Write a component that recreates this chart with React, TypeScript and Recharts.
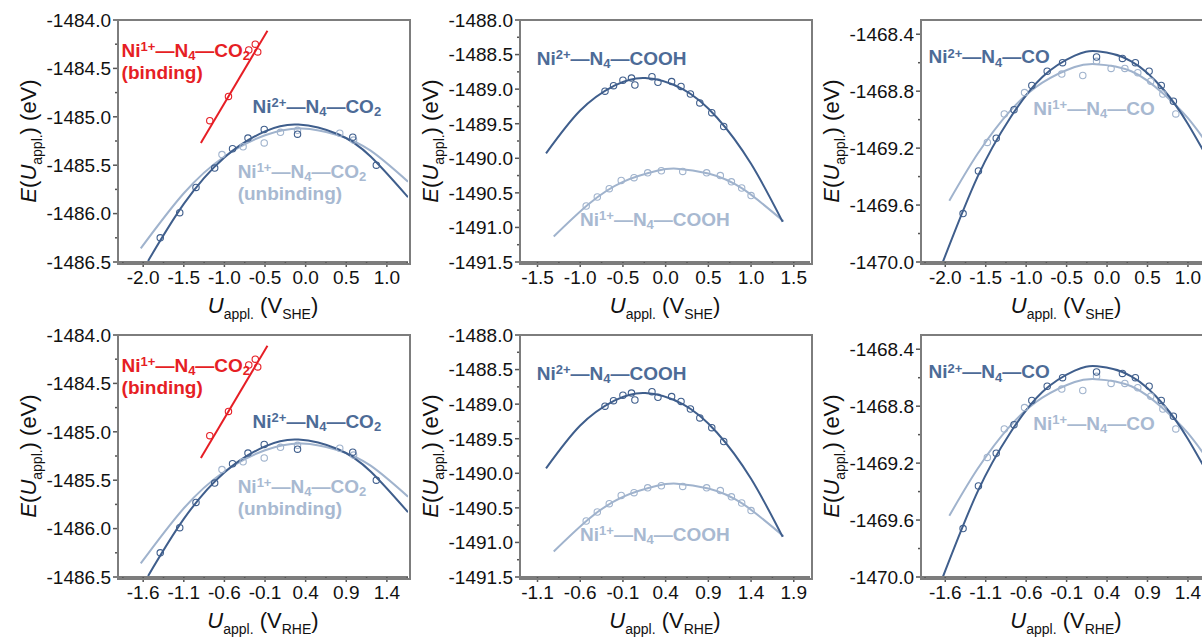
import React from 'react';
import { ComposedChart, Line, Scatter, XAxis, YAxis, ReferenceDot } from 'recharts';

const DARK = '#3f5e8c';
const LIGHT = '#a0b3cd';
const RED = '#e61e25';
const DARK_TEXT = '#4d6b97';
const LIGHT_TEXT = '#a8b9d1';
const FRAME = '#7d7d7d';
const TICK = '#555555';
const INK = '#111111';
const FONT = 'Arial, "Liberation Sans", Helvetica, sans-serif';

// plot box inside every panel
const PLOT_LEFT = 118;
const PLOT_TOP = 20;
const PLOT_W = 290;
const PLOT_H = 242;
const X_AXIS_H = 60;
const CHART_W = PLOT_LEFT + PLOT_W + 2;
const CHART_H = PLOT_TOP + PLOT_H + X_AXIS_H;

type Pt = { she: number; rhe: number; e: number };

// ---- Ni-N4-CO2 ----
const co2BindingPts: Pt[] = [
  { she: -1.18, rhe: -0.78, e: -1485.04 },
  { she: -0.95, rhe: -0.55, e: -1484.79 },
  { she: -0.7, rhe: -0.3, e: -1484.31 },
  { she: -0.62, rhe: -0.22, e: -1484.25 },
  { she: -0.59, rhe: -0.19, e: -1484.33 },
];
const co2BindingFit: Pt[] = [
  { she: -1.29, rhe: -0.89, e: -1485.27 },
  { she: -0.47, rhe: -0.07, e: -1484.11 },
];
const co2Ni2Pts: Pt[] = [
  { she: -1.79, rhe: -1.39, e: -1486.25 },
  { she: -1.55, rhe: -1.15, e: -1485.99 },
  { she: -1.35, rhe: -0.95, e: -1485.73 },
  { she: -1.12, rhe: -0.72, e: -1485.53 },
  { she: -0.9, rhe: -0.5, e: -1485.33 },
  { she: -0.71, rhe: -0.31, e: -1485.22 },
  { she: -0.51, rhe: -0.11, e: -1485.13 },
  { she: -0.1, rhe: 0.3, e: -1485.18 },
  { she: 0.58, rhe: 0.98, e: -1485.21 },
  { she: 0.87, rhe: 1.27, e: -1485.5 },
];
const co2Ni1Pts: Pt[] = [
  { she: -1.03, rhe: -0.63, e: -1485.39 },
  { she: -0.77, rhe: -0.37, e: -1485.31 },
  { she: -0.51, rhe: -0.11, e: -1485.27 },
  { she: -0.31, rhe: 0.09, e: -1485.16 },
  { she: -0.1, rhe: 0.3, e: -1485.14 },
  { she: 0.42, rhe: 0.82, e: -1485.17 },
  { she: 0.59, rhe: 0.99, e: -1485.24 },
];
const co2Ni2Fit: Pt[] = [
  { she: -1.94, rhe: -1.54, e: -1486.49 },
  { she: -1.5, rhe: -1.1, e: -1485.9 },
  { she: -1.0, rhe: -0.6, e: -1485.42 },
  { she: -0.5, rhe: -0.1, e: -1485.15 },
  { she: -0.09, rhe: 0.31, e: -1485.08 },
  { she: 0.4, rhe: 0.8, e: -1485.18 },
  { she: 0.8, rhe: 1.2, e: -1485.41 },
  { she: 1.26, rhe: 1.66, e: -1485.83 },
];
const co2Ni1Fit: Pt[] = [
  { she: -2.03, rhe: -1.63, e: -1486.36 },
  { she: -1.5, rhe: -1.1, e: -1485.79 },
  { she: -1.0, rhe: -0.6, e: -1485.41 },
  { she: -0.5, rhe: -0.1, e: -1485.19 },
  { she: -0.05, rhe: 0.35, e: -1485.12 },
  { she: 0.4, rhe: 0.8, e: -1485.19 },
  { she: 0.8, rhe: 1.2, e: -1485.35 },
  { she: 1.26, rhe: 1.66, e: -1485.67 },
];

// ---- Ni-N4-COOH ----
const coohNi2Pts: Pt[] = [
  { she: -0.71, rhe: -0.31, e: -1489.03 },
  { she: -0.61, rhe: -0.21, e: -1488.95 },
  { she: -0.5, rhe: -0.1, e: -1488.87 },
  { she: -0.4, rhe: 0.0, e: -1488.84 },
  { she: -0.36, rhe: 0.04, e: -1488.94 },
  { she: -0.16, rhe: 0.24, e: -1488.82 },
  { she: -0.09, rhe: 0.31, e: -1488.9 },
  { she: 0.07, rhe: 0.47, e: -1488.89 },
  { she: 0.18, rhe: 0.58, e: -1488.96 },
  { she: 0.29, rhe: 0.69, e: -1489.07 },
  { she: 0.4, rhe: 0.8, e: -1489.2 },
  { she: 0.54, rhe: 0.94, e: -1489.34 },
  { she: 0.68, rhe: 1.08, e: -1489.54 },
];
const coohNi1Pts: Pt[] = [
  { she: -0.93, rhe: -0.53, e: -1490.69 },
  { she: -0.8, rhe: -0.4, e: -1490.56 },
  { she: -0.66, rhe: -0.26, e: -1490.44 },
  { she: -0.52, rhe: -0.12, e: -1490.32 },
  { she: -0.37, rhe: 0.03, e: -1490.28 },
  { she: -0.21, rhe: 0.19, e: -1490.21 },
  { she: -0.05, rhe: 0.35, e: -1490.18 },
  { she: 0.2, rhe: 0.6, e: -1490.19 },
  { she: 0.48, rhe: 0.88, e: -1490.21 },
  { she: 0.64, rhe: 1.04, e: -1490.25 },
  { she: 0.77, rhe: 1.17, e: -1490.34 },
  { she: 0.89, rhe: 1.29, e: -1490.43 },
  { she: 1.0, rhe: 1.4, e: -1490.54 },
];
const coohNi2Fit: Pt[] = [
  { she: -1.4, rhe: -1.0, e: -1489.93 },
  { she: -1.0, rhe: -0.6, e: -1489.31 },
  { she: -0.6, rhe: -0.2, e: -1488.95 },
  { she: -0.24, rhe: 0.16, e: -1488.84 },
  { she: 0.2, rhe: 0.6, e: -1489.0 },
  { she: 0.6, rhe: 1.0, e: -1489.41 },
  { she: 1.0, rhe: 1.4, e: -1490.08 },
  { she: 1.37, rhe: 1.77, e: -1490.92 },
];
const coohNi1Fit: Pt[] = [
  { she: -1.31, rhe: -0.91, e: -1491.13 },
  { she: -0.9, rhe: -0.5, e: -1490.66 },
  { she: -0.5, rhe: -0.1, e: -1490.34 },
  { she: -0.1, rhe: 0.3, e: -1490.18 },
  { she: 0.13, rhe: 0.53, e: -1490.15 },
  { she: 0.5, rhe: 0.9, e: -1490.22 },
  { she: 0.9, rhe: 1.3, e: -1490.44 },
  { she: 1.38, rhe: 1.78, e: -1490.91 },
];

// ---- Ni-N4-CO ----
const coNi2Pts: Pt[] = [
  { she: -1.78, rhe: -1.38, e: -1469.66 },
  { she: -1.59, rhe: -1.19, e: -1469.36 },
  { she: -1.37, rhe: -0.97, e: -1469.13 },
  { she: -1.15, rhe: -0.75, e: -1468.93 },
  { she: -0.93, rhe: -0.53, e: -1468.76 },
  { she: -0.74, rhe: -0.34, e: -1468.66 },
  { she: -0.55, rhe: -0.15, e: -1468.6 },
  { she: -0.13, rhe: 0.27, e: -1468.56 },
  { she: 0.19, rhe: 0.59, e: -1468.57 },
  { she: 0.35, rhe: 0.75, e: -1468.6 },
  { she: 0.52, rhe: 0.92, e: -1468.66 },
  { she: 0.67, rhe: 1.07, e: -1468.76 },
  { she: 0.82, rhe: 1.22, e: -1468.87 },
];
const coNi1Pts: Pt[] = [
  { she: -1.48, rhe: -1.08, e: -1469.16 },
  { she: -1.27, rhe: -0.87, e: -1468.96 },
  { she: -1.02, rhe: -0.62, e: -1468.81 },
  { she: -0.56, rhe: -0.16, e: -1468.68 },
  { she: -0.3, rhe: 0.1, e: -1468.69 },
  { she: -0.13, rhe: 0.27, e: -1468.59 },
  { she: 0.05, rhe: 0.45, e: -1468.64 },
  { she: 0.22, rhe: 0.62, e: -1468.64 },
  { she: 0.38, rhe: 0.78, e: -1468.67 },
  { she: 0.54, rhe: 0.94, e: -1468.73 },
  { she: 0.69, rhe: 1.09, e: -1468.82 },
  { she: 0.85, rhe: 1.25, e: -1468.96 },
];
const coNi2Fit: Pt[] = [
  { she: -2.03, rhe: -1.63, e: -1470.0 },
  { she: -1.6, rhe: -1.2, e: -1469.4 },
  { she: -1.2, rhe: -0.8, e: -1468.99 },
  { she: -0.8, rhe: -0.4, e: -1468.7 },
  { she: -0.4, rhe: 0.0, e: -1468.55 },
  { she: -0.12, rhe: 0.28, e: -1468.52 },
  { she: 0.3, rhe: 0.7, e: -1468.59 },
  { she: 0.7, rhe: 1.1, e: -1468.79 },
  { she: 1.0, rhe: 1.4, e: -1469.03 },
  { she: 1.29, rhe: 1.69, e: -1469.32 },
];
const coNi1Fit: Pt[] = [
  { she: -1.95, rhe: -1.55, e: -1469.57 },
  { she: -1.6, rhe: -1.2, e: -1469.24 },
  { she: -1.2, rhe: -0.8, e: -1468.94 },
  { she: -0.8, rhe: -0.4, e: -1468.74 },
  { she: -0.4, rhe: 0.0, e: -1468.63 },
  { she: -0.14, rhe: 0.26, e: -1468.61 },
  { she: 0.3, rhe: 0.7, e: -1468.66 },
  { she: 0.7, rhe: 1.1, e: -1468.82 },
  { she: 1.0, rhe: 1.4, e: -1468.99 },
  { she: 1.29, rhe: 1.69, e: -1469.21 },
];

// ---- axes ----
const sheTicksWide = [-2.0, -1.5, -1.0, -0.5, 0.0, 0.5, 1.0];
const sheMinorWide = [-2.25, -1.75, -1.25, -0.75, -0.25, 0.25, 0.75, 1.25];
const rheTicksWide = [-1.6, -1.1, -0.6, -0.1, 0.4, 0.9, 1.4];
const rheMinorWide = [-1.85, -1.35, -0.85, -0.35, 0.15, 0.65, 1.15, 1.65];
const sheTicksMid = [-1.5, -1.0, -0.5, 0.0, 0.5, 1.0, 1.5];
const sheMinorMid = [-1.25, -0.75, -0.25, 0.25, 0.75, 1.25];
const rheTicksMid = [-1.1, -0.6, -0.1, 0.4, 0.9, 1.4, 1.9];
const rheMinorMid = [-0.85, -0.35, 0.15, 0.65, 1.15, 1.65];

const co2YTicks = [-1486.5, -1486.0, -1485.5, -1485.0, -1484.5, -1484.0];
const co2YMinor = [-1486.25, -1485.75, -1485.25, -1484.75, -1484.25];
const coohYTicks = [-1491.5, -1491.0, -1490.5, -1490.0, -1489.5, -1489.0, -1488.5, -1488.0];
const coohYMinor = [-1491.25, -1490.75, -1490.25, -1489.75, -1489.25, -1488.75, -1488.25];
const coYTicks = [-1470.0, -1469.6, -1469.2, -1468.8, -1468.4];
const coYMinor = [-1469.8, -1469.4, -1469.0, -1468.6];

// ---- labels ----
type Part = [string, ('sup' | 'sub')?];
const ni1co2: Part[] = [['Ni'], ['1+', 'sup'], ['\u2014N'], ['4', 'sub'], ['\u2014CO'], ['2', 'sub']];
const ni2co2: Part[] = [['Ni'], ['2+', 'sup'], ['\u2014N'], ['4', 'sub'], ['\u2014CO'], ['2', 'sub']];
const ni2cooh: Part[] = [['Ni'], ['2+', 'sup'], ['\u2014N'], ['4', 'sub'], ['\u2014COOH']];
const ni1cooh: Part[] = [['Ni'], ['1+', 'sup'], ['\u2014N'], ['4', 'sub'], ['\u2014COOH']];
const ni2co: Part[] = [['Ni'], ['2+', 'sup'], ['\u2014N'], ['4', 'sub'], ['\u2014CO']];
const ni1co: Part[] = [['Ni'], ['1+', 'sup'], ['\u2014N'], ['4', 'sub'], ['\u2014CO']];

const isMajor = (v: number, majors: number[]) => majors.some((m) => Math.abs(m - v) < 1e-6);

const XTick = (props: any) => {
  const { x, y, payload, majors } = props;
  const major = isMajor(payload.value, majors);
  return (
    <g>
      <rect x={x - 0.75} y={y} width={1.5} height={major ? 5 : 3} fill={TICK} />
      {major && (
        <text x={x} y={y + 22} textAnchor="middle" fontSize={19} fontFamily={FONT} fill={INK}>
          {payload.value.toFixed(1)}
        </text>
      )}
    </g>
  );
};

const YTick = (props: any) => {
  const { x, y, payload, majors } = props;
  const major = isMajor(payload.value, majors);
  const len = major ? 5 : 3;
  return (
    <g>
      <rect x={x - len} y={y - 0.75} width={len} height={1.5} fill={TICK} />
      {major && (
        <text x={x - 7} y={y} dy="0.36em" textAnchor="end" fontSize={19} fontFamily={FONT} fill={INK}>
          {payload.value.toFixed(1)}
        </text>
      )}
    </g>
  );
};

const XTitle = ({ vb, sub }: any) => (
  <text x={vb.x + vb.width / 2} y={vb.y + 51} textAnchor="middle" fontFamily={FONT} fontSize={22} fill={INK}>
    <tspan fontStyle="italic">U</tspan>
    <tspan fontSize={14} dy={6}>appl.</tspan>
    <tspan dy={-6}>{'\u00a0(V'}</tspan>
    <tspan fontSize={14} dy={6}>{sub}</tspan>
    <tspan dy={-6}>)</tspan>
  </text>
);

const YTitle = ({ vb }: any) => (
  <text
    transform={`translate(${vb.x + vb.width - 82},${vb.y + vb.height / 2}) rotate(-90)`}
    textAnchor="middle"
    fontFamily={FONT}
    fontSize={22}
    fill={INK}
  >
    <tspan fontStyle="italic">E</tspan>
    <tspan>(</tspan>
    <tspan fontStyle="italic">U</tspan>
    <tspan fontSize={14} dy={6}>appl.</tspan>
    <tspan dy={-6}>{')\u00a0(eV)'}</tspan>
  </text>
);

const ChemText = ({ x, y, parts, line2, color }: any) => {
  let shift = 0;
  const spans = parts.map(([t, kind]: Part, i: number) => {
    const target = kind === 'sup' ? -5.5 : kind === 'sub' ? 3.5 : 0;
    const dy = target - shift;
    shift = target;
    return (
      <tspan key={i} dy={dy} fontSize={kind ? 13 : 19}>
        {t}
      </tspan>
    );
  });
  return (
    <g>
      <text x={x} y={y} fill={color} fontFamily={FONT} fontWeight="bold" fontSize={19}>
        {spans}
      </text>
      {line2 && (
        <text x={x} y={y + 22} fill={color} fontFamily={FONT} fontWeight="bold" fontSize={19}>
          {line2}
        </text>
      )}
    </g>
  );
};

const openCircle = (color: string) => (p: any) =>
  <circle cx={p.cx} cy={p.cy} r={3.2} fill="none" stroke={color} strokeWidth={1.1} />;

type Series = { kind: 'fit' | 'pts'; data: Pt[]; color: string; straight?: boolean };
type Note = { x: number; y: number; parts: Part[]; line2?: string; color: string };

const axisStroke = { stroke: FRAME, strokeWidth: 2 };

const Panel = ({ xKey, xDomain, xMajor, xMinor, yDomain, yMajor, yMinor, unit, series, notes }: any) => (
  <div style={{ position: 'relative', width: CHART_W, height: CHART_H }}>
    <ComposedChart width={CHART_W} height={CHART_H} margin={{ top: PLOT_TOP, right: 2, bottom: 0, left: 0 }}>
      <XAxis
        type="number"
        dataKey={xKey}
        domain={xDomain}
        allowDataOverflow
        ticks={[...xMajor, ...xMinor]}
        interval={0}
        tick={<XTick majors={xMajor} />}
        tickLine={false}
        tickSize={0}
        tickMargin={0}
        axisLine={axisStroke}
        height={X_AXIS_H}
        label={(p: any) => <XTitle vb={p.viewBox} sub={unit} />}
      />
      <YAxis
        type="number"
        dataKey="e"
        domain={yDomain}
        allowDataOverflow
        ticks={[...yMajor, ...yMinor]}
        interval={0}
        tick={<YTick majors={yMajor} />}
        tickLine={false}
        tickSize={0}
        tickMargin={0}
        axisLine={axisStroke}
        width={PLOT_LEFT}
        label={(p: any) => <YTitle vb={p.viewBox} />}
      />
      {series.map((s: Series, i: number) =>
        s.kind === 'fit' ? (
          <Line
            key={i}
            data={s.data}
            dataKey="e"
            type={s.straight ? 'linear' : 'natural'}
            stroke={s.color}
            strokeWidth={2}
            dot={false}
            activeDot={false}
            isAnimationActive={false}
          />
        ) : (
          <Scatter key={i} data={s.data} dataKey="e" shape={openCircle(s.color)} isAnimationActive={false} />
        )
      )}
      {notes.map((n: Note, i: number) => (
        <ReferenceDot
          key={'n' + i}
          x={n.x}
          y={n.y}
          r={0}
          fill="none"
          stroke="none"
          label={(p: any) => <ChemText x={p.viewBox.x} y={p.viewBox.y} parts={n.parts} line2={n.line2} color={n.color} />}
        />
      ))}
    </ComposedChart>
    {/* box around the plot area, drawn as a bordered div on top of the chart */}
    <div
      style={{
        position: 'absolute',
        left: PLOT_LEFT - 1,
        top: PLOT_TOP - 1,
        width: PLOT_W,
        height: PLOT_H,
        border: `2px solid ${FRAME}`,
        pointerEvents: 'none',
        boxSizing: 'content-box',
      }}
    />
  </div>
);

const co2Series: Series[] = [
  { kind: 'fit', data: co2Ni1Fit, color: LIGHT },
  { kind: 'fit', data: co2Ni2Fit, color: DARK },
  { kind: 'fit', data: co2BindingFit, color: RED, straight: true },
  { kind: 'pts', data: co2Ni1Pts, color: LIGHT },
  { kind: 'pts', data: co2Ni2Pts, color: DARK },
  { kind: 'pts', data: co2BindingPts, color: RED },
];
const coohSeries: Series[] = [
  { kind: 'fit', data: coohNi1Fit, color: LIGHT },
  { kind: 'fit', data: coohNi2Fit, color: DARK },
  { kind: 'pts', data: coohNi1Pts, color: LIGHT },
  { kind: 'pts', data: coohNi2Pts, color: DARK },
];
const coSeries: Series[] = [
  { kind: 'fit', data: coNi1Fit, color: LIGHT },
  { kind: 'fit', data: coNi2Fit, color: DARK },
  { kind: 'pts', data: coNi1Pts, color: LIGHT },
  { kind: 'pts', data: coNi2Pts, color: DARK },
];

const panels = [
  {
    left: 0, top: 0, xKey: 'she', unit: 'SHE', xDomain: [-2.31, 1.26], xMajor: sheTicksWide, xMinor: sheMinorWide,
    yDomain: [-1486.5, -1484.0], yMajor: co2YTicks, yMinor: co2YMinor, series: co2Series,
    notes: [
      { x: -2.266, y: -1484.38, parts: ni1co2, line2: '(binding)', color: RED },
      { x: -0.653, y: -1484.957, parts: ni2co2, color: DARK_TEXT },
      { x: -0.837, y: -1485.631, parts: ni1co2, line2: '(unbinding)', color: LIGHT_TEXT },
    ],
  },
  {
    left: 402, top: 0, xKey: 'she', unit: 'SHE', xDomain: [-1.705, 1.69], xMajor: sheTicksMid, xMinor: sheMinorMid,
    yDomain: [-1491.5, -1488.0], yMajor: coohYTicks, yMinor: coohYMinor, series: coohSeries,
    notes: [
      { x: -1.509, y: -1488.65, parts: ni2cooh, color: DARK_TEXT },
      { x: -1.002, y: -1490.977, parts: ni1cooh, color: LIGHT_TEXT },
    ],
  },
  {
    left: 803, top: 0, xKey: 'she', unit: 'SHE', xDomain: [-2.3, 1.285], xMajor: sheTicksWide, xMinor: sheMinorWide,
    yDomain: [-1470.0, -1468.3], yMajor: coYTicks, yMinor: coYMinor, series: coSeries,
    notes: [
      { x: -2.207, y: -1468.604, parts: ni2co, color: DARK_TEXT },
      { x: -0.911, y: -1468.967, parts: ni1co, color: LIGHT_TEXT },
    ],
  },
  {
    left: 0, top: 315, xKey: 'rhe', unit: 'RHE', xDomain: [-1.91, 1.66], xMajor: rheTicksWide, xMinor: rheMinorWide,
    yDomain: [-1486.5, -1484.0], yMajor: co2YTicks, yMinor: co2YMinor, series: co2Series,
    notes: [
      { x: -1.866, y: -1484.38, parts: ni1co2, line2: '(binding)', color: RED },
      { x: -0.253, y: -1484.957, parts: ni2co2, color: DARK_TEXT },
      { x: -0.437, y: -1485.631, parts: ni1co2, line2: '(unbinding)', color: LIGHT_TEXT },
    ],
  },
  {
    left: 402, top: 315, xKey: 'rhe', unit: 'RHE', xDomain: [-1.305, 2.09], xMajor: rheTicksMid, xMinor: rheMinorMid,
    yDomain: [-1491.5, -1488.0], yMajor: coohYTicks, yMinor: coohYMinor, series: coohSeries,
    notes: [
      { x: -1.109, y: -1488.65, parts: ni2cooh, color: DARK_TEXT },
      { x: -0.602, y: -1490.977, parts: ni1cooh, color: LIGHT_TEXT },
    ],
  },
  {
    left: 803, top: 315, xKey: 'rhe', unit: 'RHE', xDomain: [-1.9, 1.685], xMajor: rheTicksWide, xMinor: rheMinorWide,
    yDomain: [-1470.0, -1468.3], yMajor: coYTicks, yMinor: coYMinor, series: coSeries,
    notes: [
      { x: -1.807, y: -1468.604, parts: ni2co, color: DARK_TEXT },
      { x: -0.511, y: -1468.967, parts: ni1co, color: LIGHT_TEXT },
    ],
  },
];

export default function App() {
  return (
    <div style={{ position: 'absolute', left: 0, top: 0, width: 1202, height: 639, overflow: 'hidden', background: '#fff' }}>
      {panels.map((p, i) => (
        <div key={i} style={{ position: 'absolute', left: p.left, top: p.top }}>
          <Panel {...p} />
        </div>
      ))}
    </div>
  );
}
